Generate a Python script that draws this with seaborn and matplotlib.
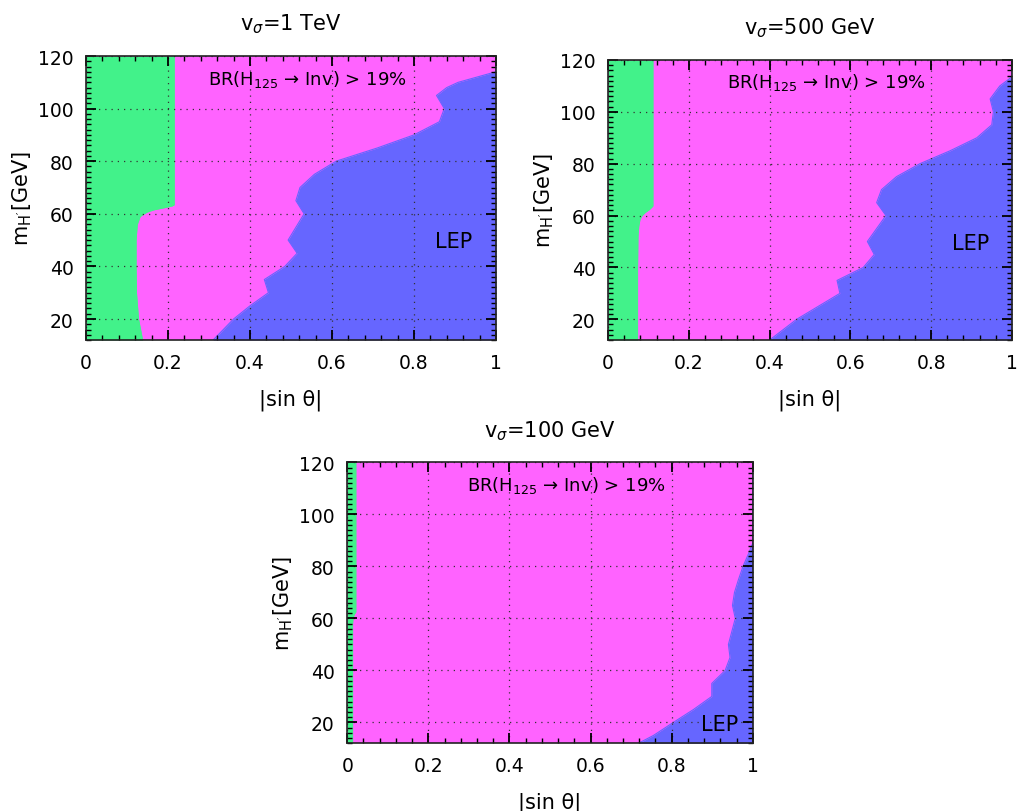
import numpy as np
import pandas as pd
import matplotlib
matplotlib.use("Agg")
import matplotlib.pyplot as plt
from matplotlib.ticker import MultipleLocator, FuncFormatter
import seaborn as sns

# ---- data: region boundaries in the (|sin theta|, m_H') plane ----
# v_sigma = 1 TeV
green_m_1tev = [12, 20, 30, 40, 50, 56, 59, 60.6, 61.5, 62.3, 63, 63.4, 120]
green_x_1tev = [0.138, 0.128, 0.123, 0.122, 0.122, 0.125, 0.132, 0.148, 0.165, 0.19, 0.21, 0.215, 0.215]
lep_m_1tev = [12, 20, 25, 30, 35, 40, 45, 50, 60, 65, 70, 75, 80, 85, 90, 95, 100, 105, 108, 110, 114, 120]
lep_x_1tev = [0.31, 0.36, 0.40, 0.445, 0.435, 0.485, 0.515, 0.493, 0.532, 0.512, 0.522, 0.557,
              0.61, 0.71, 0.80, 0.862, 0.874, 0.855, 0.88, 0.908, 1.0, 1.0]

# v_sigma = 500 GeV
green_m_500 = [12, 40, 52, 56, 58.5, 60, 61.2, 62.3, 63.2, 63.7, 120]
green_x_500 = [0.073, 0.073, 0.074, 0.076, 0.079, 0.084, 0.092, 0.102, 0.108, 0.111, 0.111]
lep_m_500 = [12, 20, 30, 35, 40, 45, 50, 60, 65, 70, 75, 80, 85, 90, 95, 100, 105, 110, 113.5, 120]
lep_x_500 = [0.40, 0.467, 0.574, 0.567, 0.632, 0.659, 0.642, 0.688, 0.665, 0.677, 0.714,
             0.772, 0.847, 0.913, 0.95, 0.954, 0.946, 0.97, 1.0, 1.0]

# v_sigma = 100 GeV
green_m_100 = [12, 58, 60, 61.5, 62.5, 120]
green_x_100 = [0.013, 0.013, 0.014, 0.017, 0.021, 0.021]
lep_m_100 = [12, 15, 20, 25, 30, 35, 40, 45, 50, 60, 65, 70, 75, 80, 85, 89, 120]
lep_x_100 = [0.718, 0.755, 0.804, 0.854, 0.899, 0.899, 0.932, 0.944, 0.94, 0.957, 0.95,
             0.955, 0.965, 0.976, 0.99, 1.0, 1.0]

titles = [r"v$_{\sigma}$=1 TeV", r"v$_{\sigma}$=500 GeV", r"v$_{\sigma}$=100 GeV"]
lep_label_pos = [(0.896, 49.8), (0.898, 49.6), (0.918, 19.4)]

GREEN = "#42f28a"
MAGENTA = "#ff63ff"
BLUE = "#6666ff"

sns.set_theme(style="ticks")
plt.rcParams["font.family"] = ["DejaVu Sans"]
plt.rcParams["mathtext.fontset"] = "dejavusans"
plt.rcParams["text.color"] = "black"
plt.rcParams["axes.labelcolor"] = "black"
plt.rcParams["xtick.color"] = "black"
plt.rcParams["ytick.color"] = "black"

fig = plt.figure(figsize=(10.19, 8.12), dpi=100)
positions = [
    [0.0844, 0.580, 0.4023, 0.3498],
    [0.5967, 0.580, 0.3964, 0.3449],
    [0.3408, 0.0834, 0.3979, 0.3460],
]

panels = [
    (green_m_1tev, green_x_1tev, lep_m_1tev, lep_x_1tev),
    (green_m_500, green_x_500, lep_m_500, lep_x_500),
    (green_m_100, green_x_100, lep_m_100, lep_x_100),
]

fmt = FuncFormatter(lambda v, p: f"{v:g}")

for pos, (gm, gx, lm, lx), title, (lpx, lpy) in zip(positions, panels, titles, lep_label_pos):
    ax = fig.add_axes(pos)
    ax.set_facecolor(MAGENTA)

    green = pd.DataFrame({"m": gm, "x": gx})
    lep = pd.DataFrame({"m": lm, "x": lx})

    ax.fill_betweenx(green["m"], 0, green["x"], color=GREEN, lw=0, zorder=1)
    ax.fill_betweenx(lep["m"], lep["x"], 1.0, color=BLUE, lw=0, zorder=1)
    sns.lineplot(data=green, x="x", y="m", orient="y", sort=False, color=GREEN,
                 lw=0.8, ax=ax, zorder=1.5, estimator=None)
    sns.lineplot(data=lep, x="x", y="m", orient="y", sort=False, color=BLUE,
                 lw=0.8, ax=ax, zorder=1.5, estimator=None)

    ax.set_xlim(0, 1)
    ax.set_ylim(12, 120)
    ax.xaxis.set_major_locator(MultipleLocator(0.2))
    ax.xaxis.set_minor_locator(MultipleLocator(0.04))
    ax.yaxis.set_major_locator(MultipleLocator(20))
    ax.yaxis.set_minor_locator(MultipleLocator(2))
    ax.xaxis.set_major_formatter(fmt)
    ax.yaxis.set_major_formatter(fmt)
    ax.set_yticks([20, 40, 60, 80, 100, 120])

    ax.tick_params(which="both", direction="in", top=True, right=True, colors="black",
                   labelsize=13.5)
    ax.tick_params(which="major", length=7, width=1.3, pad=9)
    ax.tick_params(which="minor", length=3.5, width=1.0)
    for sp in ax.spines.values():
        sp.set_color("#222222")
        sp.set_linewidth(1.2)
        sp.set_zorder(5)

    ax.grid(True, which="major", color="#333333", linestyle=(0, (1, 4)), linewidth=0.9)
    ax.set_axisbelow(False)
    for gl in ax.get_xgridlines() + ax.get_ygridlines():
        gl.set_zorder(2)

    ax.set_xlabel("|sin θ|", fontsize=15, labelpad=12)
    ax.set_ylabel(r"m$_{\mathregular{H'}}$[GeV]", fontsize=15, labelpad=3)
    ax.set_title(title, fontsize=15, pad=19, color="black")

    ax.text(0.54, 111.6, r"BR(H$_{125}$ → Inv) > 19%", fontsize=13,
            ha="center", va="center", color="black", zorder=4)
    ax.text(lpx, lpy, "LEP", fontsize=15, ha="center", va="center", color="black", zorder=4)

fig.savefig("out.png", dpi=100)
